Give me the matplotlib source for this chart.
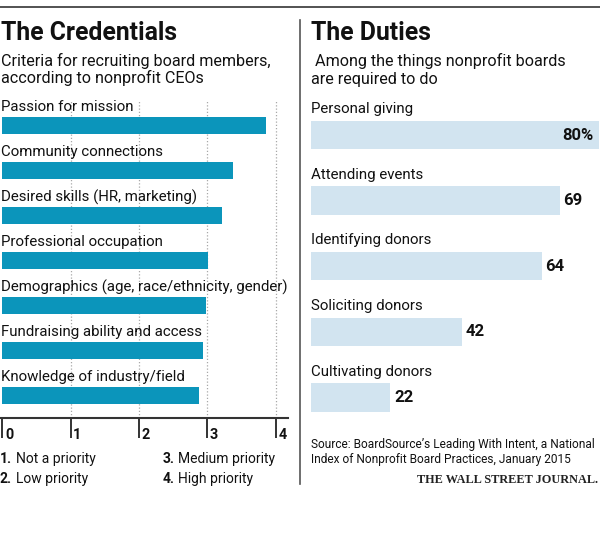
import matplotlib
matplotlib.use('Agg')
import matplotlib.pyplot as plt
from matplotlib.lines import Line2D

plt.rcParams['font.family'] = ['Roboto', 'DejaVu Sans']

# ---------------- data ----------------
criteria = ["Passion for mission", "Community connections",
            "Desired skills (HR, marketing)", "Professional occupation",
            "Demographics (age, race/ethnicity, gender)",
            "Fundraising ability and access", "Knowledge of industry/field"]
scores = [3.86, 3.37, 3.21, 3.01, 2.98, 2.94, 2.87]
score_ticks = [0, 1, 2, 3, 4]
priority_nums = ["1.", "2.", "3.", "4."]
priority_levels = ["Not a priority", "Low priority", "Medium priority", "High priority"]

duties = ["Personal giving", "Attending events", "Identifying donors",
          "Soliciting donors", "Cultivating donors"]
duty_pct = [80, 69, 64, 42, 22]

# ---------------- layout helpers ----------------
W, H = 600, 539
fig = plt.figure(figsize=(W / 100, H / 100), dpi=100)


def box(x0, y0, x1, y1):
    return [x0 / W, 1 - y1 / H, (x1 - x0) / W, (y1 - y0) / H]


def fx(x):
    return x / W


def fy(y):
    return 1 - y / H


LEFT_BLUE = '#0b95bb'
RIGHT_BLUE = '#d2e4f0'
TXT = '#111111'
LABEL_FS = 10.8
SUB_FS = 11.6
TITLE_FS = 17.8

# ---------------- left chart ----------------
axL = fig.add_axes(box(0, 100, 288, 418))
axL.set_xlim(-0.0366, 4.18)
axL.set_ylim(6.511, -0.556)
ypos = list(range(len(criteria)))
bh = 0.378
axL.barh(ypos, scores, height=bh, color=LEFT_BLUE, zorder=2)
for g in score_ticks[1:]:
    axL.axvline(g, color='#a8a8a8', ls=(0, (1, 1.6)), lw=0.9, zorder=1)
for s in ['top', 'right', 'left']:
    axL.spines[s].set_visible(False)
axL.spines['bottom'].set_color('#333333')
axL.spines['bottom'].set_linewidth(1.5)
axL.set_yticks([])
axL.set_xticks(score_ticks)
axL.tick_params(axis='x', length=14.4, width=1.4, color='#333333',
                labelbottom=False, direction='out')
axL.patch.set_alpha(0)
for v in score_ticks:
    axL.annotate(str(v), xy=(v, 0), xycoords=('data', 'axes fraction'),
                 xytext=(1.8, -7.3), textcoords='offset points',
                 ha='left', va='top', fontsize=10.4, fontweight='bold', color=TXT)
for i, name in enumerate(criteria):
    axL.annotate(name, xy=(0, i - bh / 2), xycoords=('axes fraction', 'data'),
                 xytext=(0.5, 3.8), textcoords='offset points',
                 ha='left', va='baseline', fontsize=LABEL_FS, color=TXT)

# ---------------- right chart ----------------
axR = fig.add_axes(box(311, 95, 600, 420))
axR.set_xlim(0, 80.17)
axR.set_ylim(4.345, -0.61)
ypos2 = list(range(len(duties)))
bh2 = 0.434
axR.barh(ypos2, duty_pct, height=bh2, color=RIGHT_BLUE)
axR.axis('off')
for i, (name, v) in enumerate(zip(duties, duty_pct)):
    axR.annotate(name, xy=(0, i - bh2 / 2), xycoords=('axes fraction', 'data'),
                 xytext=(0, 5.4), textcoords='offset points',
                 ha='left', va='baseline', fontsize=LABEL_FS, color=TXT)
    if i == 0:
        axR.annotate(f"{v}%", xy=(v, i), xytext=(-4.3, 0),
                     textcoords='offset points', ha='right', va='center',
                     fontsize=12, fontweight='bold', color=TXT)
    else:
        axR.annotate(f"{v}", xy=(v, i), xytext=(2.6, 0),
                     textcoords='offset points', ha='left', va='center',
                     fontsize=12, fontweight='bold', color=TXT)

# ---------------- texts ----------------
fig.text(fx(1), fy(40), "The Credentials", fontsize=TITLE_FS, fontweight='bold',
         color=TXT, va='baseline')
fig.text(fx(1), fy(66), "Criteria for recruiting board members,", fontsize=SUB_FS,
         color=TXT, va='baseline')
fig.text(fx(1), fy(83.5), "according to nonprofit CEOs", fontsize=SUB_FS,
         color=TXT, va='baseline')

fig.text(fx(311), fy(40), "The Duties", fontsize=TITLE_FS, fontweight='bold',
         color=TXT, va='baseline')
fig.text(fx(311), fy(66), " Among the things nonprofit boards", fontsize=SUB_FS,
         color=TXT, va='baseline')
fig.text(fx(311), fy(84), "are required to do", fontsize=SUB_FS,
         color=TXT, va='baseline')

legend_pos = [(0, 463), (0, 483), (163, 463), (163, 483)]
for (px, py), num, lab in zip(legend_pos, priority_nums, priority_levels):
    fig.text(fx(px), fy(py), num, fontsize=10, fontweight='bold', color=TXT,
             va='baseline')
    fig.text(fx(px + 15.5), fy(py), lab, fontsize=10, color=TXT, va='baseline')

fig.text(fx(311), fy(448), "Source: BoardSource\u2019s Leading With Intent, a National",
         fontsize=8.6, color=TXT, va='baseline')
fig.text(fx(311), fy(463), "Index of Nonprofit Board Practices, January 2015",
         fontsize=8.6, color=TXT, va='baseline')
fig.text(fx(598), fy(483), "THE WALL STREET JOURNAL.", fontsize=8.8,
         family='Liberation Serif', fontweight='bold', color='#222222',
         ha='right', va='baseline')

# frame lines
fig.add_artist(Line2D([0, 1], [fy(7), fy(7)], transform=fig.transFigure,
                      color='#444444', lw=1.3))
fig.add_artist(Line2D([fx(299.5), fx(299.5)], [fy(20), fy(484)],
                      transform=fig.transFigure, color='#555555', lw=1.2))

fig.savefig('out.png', dpi=100, facecolor='white')
